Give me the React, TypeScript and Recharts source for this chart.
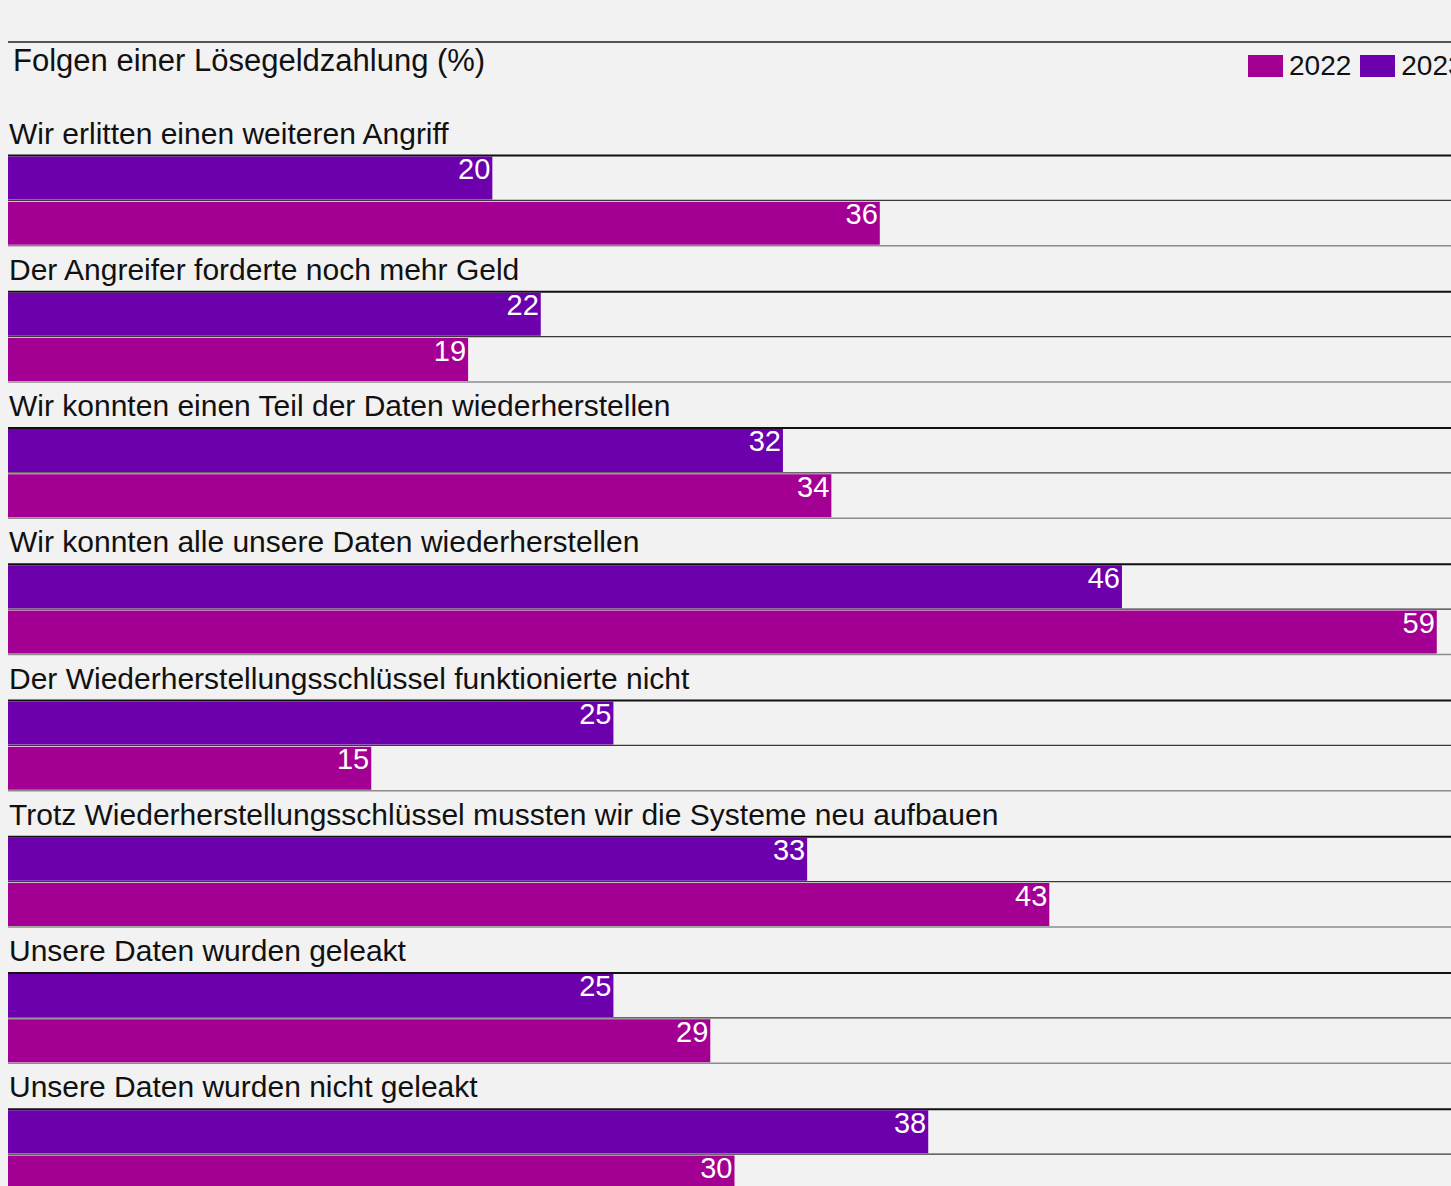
import { Bar, BarChart, Cell, LabelList, XAxis, YAxis } from "recharts";

const PURPLE = "#6d00ad";
const MAGENTA = "#a30093";
const FONT = '"Liberation Sans", Arial, sans-serif';

const TITLE = "Folgen einer Lösegeldzahlung (%)";

const CATEGORIES = [
  "Wir erlitten einen weiteren Angriff",
  "Der Angreifer forderte noch mehr Geld",
  "Wir konnten einen Teil der Daten wiederherstellen",
  "Wir konnten alle unsere Daten wiederherstellen",
  "Der Wiederherstellungsschlüssel funktionierte nicht",
  "Trotz Wiederherstellungsschlüssel mussten wir die Systeme neu aufbauen",
  "Unsere Daten wurden geleakt",
  "Unsere Daten wurden nicht geleakt",
];

const VALUES_2023 = [20, 22, 32, 46, 25, 33, 25, 38];
const VALUES_2022 = [36, 19, 34, 59, 15, 43, 29, 30];

const LEGEND = [
  { name: "2022", color: MAGENTA },
  { name: "2023", color: PURPLE },
];

type Row = { id: string; kind: "label" | "2023" | "2022"; name: string; value: number | null };

// each category gets a label row, then the 2023 bar, then the 2022 bar
const rows: Row[] = CATEGORIES.flatMap((name, i) => [
  { id: `c${i}`, kind: "label" as const, name, value: null },
  { id: `a${i}`, kind: "2023" as const, name, value: VALUES_2023[i] },
  { id: `b${i}`, kind: "2022" as const, name, value: VALUES_2022[i] },
]);

const rowById = new Map(rows.map((r) => [r.id, r]));

function renderCategoryTick(props: any) {
  const row = rowById.get(props?.payload?.value) ?? rows[props?.index];
  if (!row || row.kind !== "label") return <g />;
  return (
    <text x={Math.max(props.x ?? 0, 0) + 1} y={props.y + 11} fill="#111" fontSize={30} fontFamily={FONT} textAnchor="start">
      {row.name}
    </text>
  );
}

function RowLines(props: any) {
  const { x, y, width, height, payload } = props;
  const row: Row | undefined = payload ?? rows[props.index];
  if (!row || row.kind === "label") return null;
  const top = y - 1;
  const bottom = y + height + 1;
  if (row.kind === "2023") {
    return (
      <g>
        <line x1={x} x2={x + width} y1={top} y2={top} stroke="#111" strokeWidth={2} />
        <line x1={x} x2={x + width} y1={bottom} y2={bottom} stroke="#3a3a3a" strokeWidth={1.3} />
      </g>
    );
  }
  return <line x1={x} x2={x + width} y1={bottom} y2={bottom} stroke="#8c8c8c" strokeWidth={1.5} />;
}

function ValueLabel(props: any) {
  const { x, y, width, height, value } = props;
  if (value == null) return null;
  return (
    <text
      x={x + width - 2}
      y={y + height / 2 + 1}
      fill="#fff"
      fontSize={29}
      fontFamily={FONT}
      textAnchor="end"
    >
      {value}
    </text>
  );
}

export default function App() {
  return (
    <div
      style={{
        position: "absolute",
        left: 0,
        top: 0,
        width: 1451,
        height: 1186,
        overflow: "hidden",
        background: "#f2f2f2",
        fontFamily: FONT,
        color: "#111",
      }}
    >
      <div style={{ position: "absolute", left: 8, top: 41, width: 1443, height: 2, background: "#555" }} />
      <div style={{ position: "absolute", left: 13, top: 45, fontSize: 31, lineHeight: "31px", whiteSpace: "nowrap" }}>
        {TITLE}
      </div>
      <div style={{ position: "absolute", left: 1248, top: 52, display: "flex", alignItems: "center", whiteSpace: "nowrap" }}>
        {LEGEND.map((item) => (
          <div key={item.name} style={{ display: "flex", alignItems: "center", marginRight: 9 }}>
            <span style={{ display: "inline-block", width: 35, height: 22, background: item.color, marginRight: 6 }} />
            <span style={{ fontSize: 28, lineHeight: "28px" }}>{item.name}</span>
          </div>
        ))}
      </div>
      <div style={{ position: "absolute", left: 7, top: 0 }}>
        <BarChart
          width={1454}
          height={1200}
          data={rows}
          layout="vertical"
          margin={{ top: 110, right: 0, bottom: 0, left: 0 }}
          barCategoryGap={1}
        >
          <XAxis type="number" domain={[0, 60]} hide />
          <YAxis
            type="category"
            dataKey="id"
            width={1}
            interval={0}
            axisLine={false}
            tickLine={false}
            tickSize={0}
            tickMargin={0}
            tick={renderCategoryTick}
          />
          <Bar dataKey="value" isAnimationActive={false} background={<RowLines />}>
            {rows.map((r) => (
              <Cell key={r.id} fill={r.kind === "2023" ? PURPLE : MAGENTA} />
            ))}
            <LabelList dataKey="value" content={<ValueLabel />} />
          </Bar>
        </BarChart>
      </div>
    </div>
  );
}
